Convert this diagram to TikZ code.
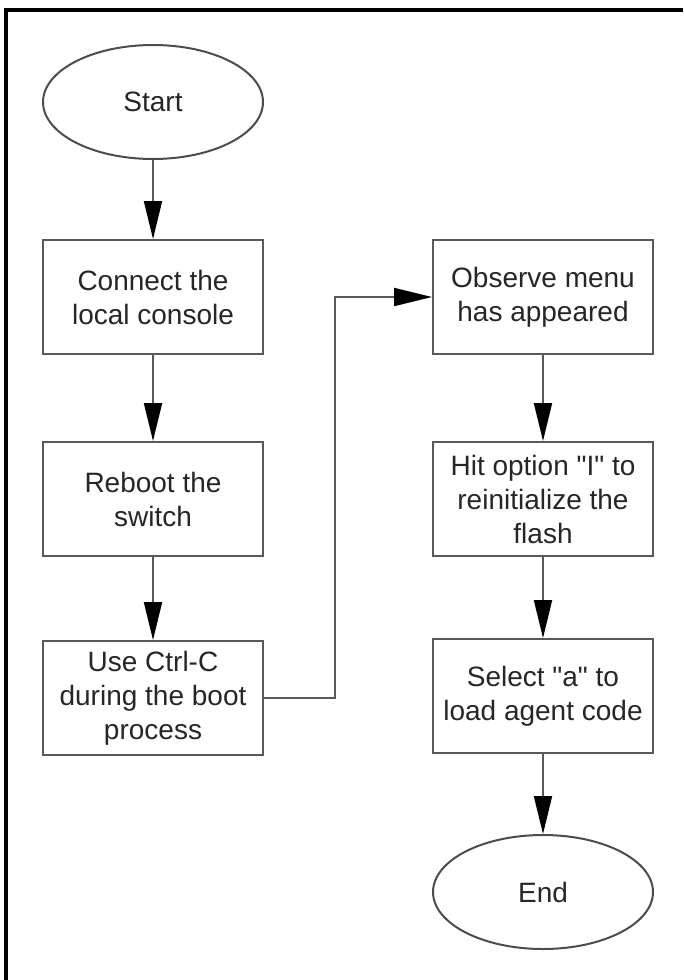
\documentclass[tikz,border=0pt]{standalone}
\usepackage{fontspec}
\setmainfont{Liberation Sans}[Ligatures=TeXOff]
\usetikzlibrary{arrows.meta,shapes.geometric}
\begin{document}
\begin{tikzpicture}[x=1pt,y=-1pt,
    every node/.style={font=\fontsize{28}{34}\selectfont,text=black!85},
    stepbox/.style={draw=black!65,line width=2pt,minimum width=220pt,minimum height=114pt,align=center,inner sep=0pt},
    term/.style={ellipse,draw=black!70,line width=2pt,minimum width=220pt,minimum height=114pt,inner sep=0pt},
    flow/.style={draw=black!65,line width=2pt,-{Triangle[length=38pt,width=18pt,black]}}]
        \useasboundingbox (0,0) rectangle (683,980);
        \draw[line width=3.5pt] (683,10) -- (6,10) -- (6,980);
        \node[term] (start) at (153,102) {Start};
        \node[stepbox] (connect) at (153,297) {Connect the\\local console};
        \node[stepbox] (reboot) at (153,499) {Reboot the\\switch};
        \node[stepbox] (ctrlc) at (153,698) {Use Ctrl-C\\during the boot\\process};
        \node[stepbox] (observe) at (543,297) {Observe menu\\has appeared};
        \node[stepbox] (hitopt) at (543,499) {Hit option "I" to\\reinitialize the\\flash};
        \node[stepbox] (select) at (543,696) {Select "a" to\\load agent code};
        \node[term] (stop) at (543,892) {End};
        \coordinate (bend) at (335,698);
        \draw[flow] (start) -- (connect);
        \draw[flow] (connect) -- (reboot);
        \draw[flow] (reboot) -- (ctrlc);
        \draw[flow] (ctrlc.east) -- (bend) |- (observe.west);
        \draw[flow] (observe) -- (hitopt);
        \draw[flow] (hitopt) -- (select);
        \draw[flow] (select) -- (stop);
      \end{tikzpicture}
\end{document}
